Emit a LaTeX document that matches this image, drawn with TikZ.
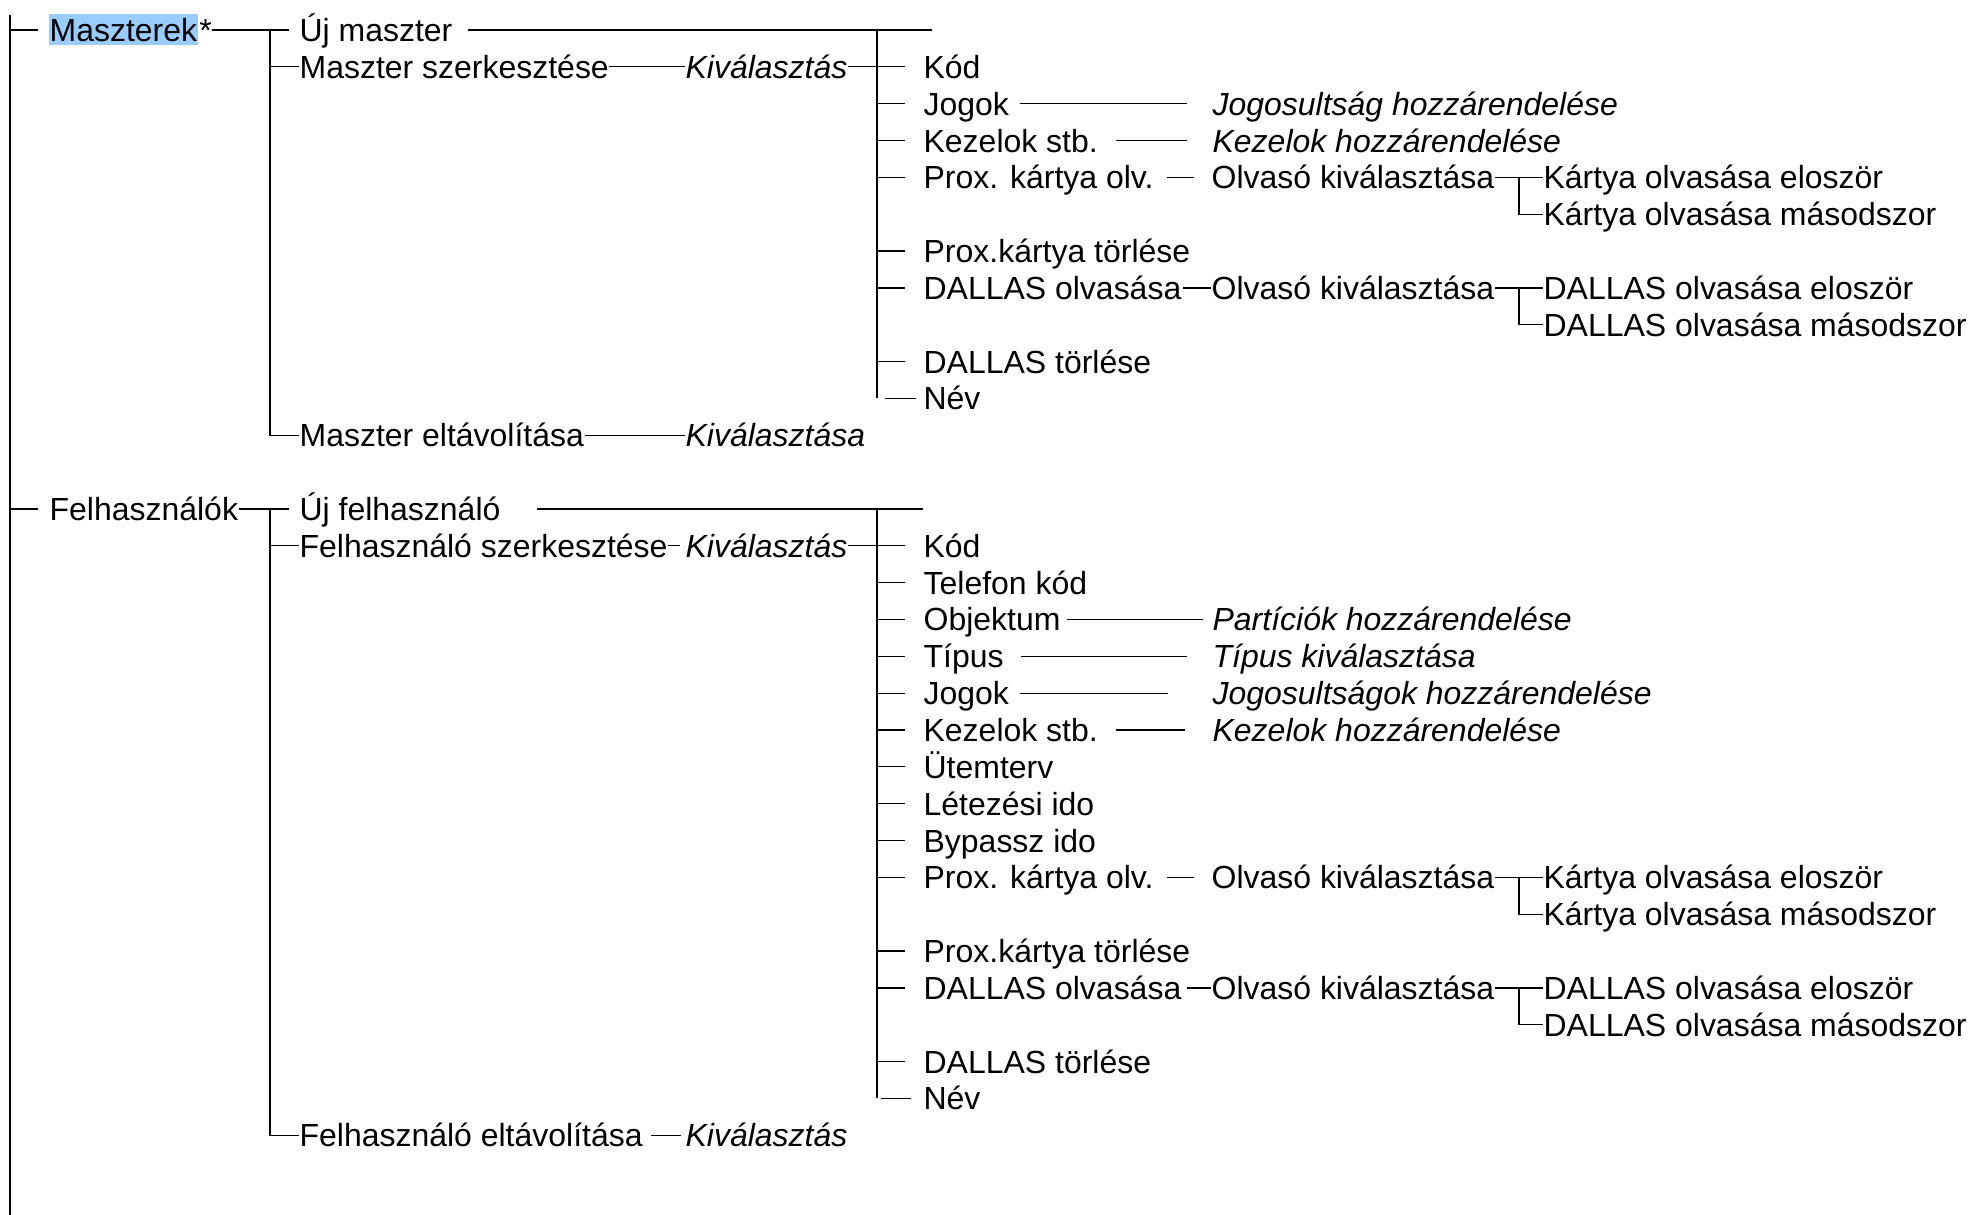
\documentclass[tikz,border=0pt]{standalone}
\usepackage{fontspec}
\setmainfont{Liberation Sans}
\usepackage{tikz}
\usetikzlibrary{positioning, calc}
\definecolor{kiemel}{RGB}{153,204,255}

\begin{document}
\begin{tikzpicture}[
    x=0.02cm, y=-0.737cm, line width=0.7pt,
    txt/.style={anchor=west, inner sep=0pt, text height=0.46cm, text depth=0pt, font=\fontsize{18.2}{22}\selectfont},
    dolt/.style={txt, font=\fontsize{18.2}{22}\selectfont\itshape}
]
\useasboundingbox (0,-0.814) rectangle (1970,32.157);

% Maszterek ag
\node[txt, fill=kiemel, inner xsep=0.02cm, inner ysep=0.08cm] (maszterek) at (48,0) {Maszterek};
\node[txt, right=0pt of maszterek] (csillag) {*};
\node[txt] (ujmaszter) at (299,0) {Új maszter};
\node[txt] (mszerk) at (299,1) {Maszter szerkesztése};
\node[dolt] (mkival) at (685,1) {Kiválasztás};
\node[txt] (mkod) at (923,1) {Kód};
\node[txt] (mjogok) at (923,2) {Jogok};
\node[dolt] (mjogos) at (1212,2) {Jogosultság hozzárendelése};
\node[txt] (mkezelok) at (923,3) {Kezelok stb.};
\node[dolt] (mkezhoz) at (1212,3) {Kezelok hozzárendelése};
\node[txt] (mprox) at (923,4) {Prox. kártya olv.};
\node[txt] (molv) at (1211,4) {Olvasó kiválasztása};
\node[txt] (mkartya1) at (1543,4) {Kártya olvasása eloször};
\node[txt] (mkartya2) at (1543,5) {Kártya olvasása másodszor};
\node[txt] (mproxt) at (923,6) {Prox.kártya törlése};
\node[txt] (mdallas) at (923,7) {DALLAS olvasása};
\node[txt] (mdolv) at (1211,7) {Olvasó kiválasztása};
\node[txt] (mdallas1) at (1543,7) {DALLAS olvasása eloször};
\node[txt] (mdallas2) at (1543,8) {DALLAS olvasása másodszor};
\node[txt] (mdallast) at (923,9) {DALLAS törlése};
\node[txt] (mnev) at (923,10) {Név};
\node[txt] (meltav) at (299,11) {Maszter eltávolítása};
\node[dolt] (mkival2) at (685,11) {Kiválasztása};

% Felhasznalok ag
\node[txt] (felh) at (49,13) {Felhasználók};
\node[txt] (ujfelh) at (299,13) {Új felhasználó};
\node[txt] (fszerk) at (299,14) {Felhasználó szerkesztése};
\node[dolt] (fkival) at (685,14) {Kiválasztás};
\node[txt] (fkod) at (923,14) {Kód};
\node[txt] (ftelefon) at (923,15) {Telefon kód};
\node[txt] (fobj) at (923,16) {Objektum};
\node[dolt] (fpart) at (1212,16) {Partíciók hozzárendelése};
\node[txt] (ftipus) at (923,17) {Típus};
\node[dolt] (ftipkiv) at (1212,17) {Típus kiválasztása};
\node[txt] (fjogok) at (923,18) {Jogok};
\node[dolt] (fjogos) at (1212,18) {Jogosultságok hozzárendelése};
\node[txt] (fkezelok) at (923,19) {Kezelok stb.};
\node[dolt] (fkezhoz) at (1212,19) {Kezelok hozzárendelése};
\node[txt] (futem) at (923,20) {Ütemterv};
\node[txt] (flet) at (923,21) {Létezési ido};
\node[txt] (fbyp) at (923,22) {Bypassz ido};
\node[txt] (fprox) at (923,23) {Prox. kártya olv.};
\node[txt] (folv) at (1211,23) {Olvasó kiválasztása};
\node[txt] (fkartya1) at (1543,23) {Kártya olvasása eloször};
\node[txt] (fkartya2) at (1543,24) {Kártya olvasása másodszor};
\node[txt] (fproxt) at (923,25) {Prox.kártya törlése};
\node[txt] (fdallas) at (923,26) {DALLAS olvasása};
\node[txt] (fdolv) at (1211,26) {Olvasó kiválasztása};
\node[txt] (fdallas1) at (1543,26) {DALLAS olvasása eloször};
\node[txt] (fdallas2) at (1543,27) {DALLAS olvasása másodszor};
\node[txt] (fdallast) at (923,28) {DALLAS törlése};
\node[txt] (fnev) at (923,29) {Név};
\node[txt] (feltav) at (299,30) {Felhasználó eltávolítása};
\node[dolt] (fkival2) at (685,30) {Kiválasztás};

% gyoker vonal
\coordinate (gyoker) at (10,-0.41);
\coordinate (gyokeralj) at (10,32.157);
\draw (gyoker) -- (gyokeralj);
\draw[shorten >=0.2cm] (gyoker |- maszterek.west) -- (maszterek.west);
\draw[shorten >=0.22cm] (gyoker |- felh.west) -- (felh.west);

% Maszterek vonalai
\coordinate (mag) at (270,0);
\coordinate (mag2) at (877,0);
\coordinate (mujvege) at (932,0);
\draw[shorten >=0.2cm] (csillag.east) -- (ujmaszter.west);
\draw (mag) |- (meltav.west);
\draw (mag |- mszerk.west) -- (mszerk.west);
\draw (mszerk.east) -- (mkival.west);
\draw (meltav.east) -- (mkival2.west);
\draw[shorten <=0.3cm] (ujmaszter.east) -- (mujvege);
\draw (mag2) -- (mag2 |- mnev.west);
\draw[shorten >=0.36cm] (mkival.east) -- (mkod.west);
\foreach \n in {mjogok, mkezelok, mprox, mproxt, mdallas, mdallast}
    \draw[shorten >=0.36cm] (mag2 |- \n.west) -- (\n.west);
\draw[shorten <=0.16cm, shorten >=0.14cm] (mag2 |- mnev.west) -- (mnev.west);
\draw[shorten <=0.2cm, shorten >=0.5cm] (mjogok.east) -- (mjogos.west);
\draw[shorten <=0.35cm, shorten >=0.5cm] (mkezelok.east) -- (mkezhoz.west);
\draw[shorten <=0.25cm, shorten >=0.35cm] (mprox.east) -- (molv.west);
\draw (molv.east) -- (mkartya1.west);
\draw ($(molv.east)!0.5!(mkartya1.west)$) |- (mkartya2.west);
\draw[shorten <=0.03cm] (mdallas.east) -- (mdolv.west);
\draw (mdolv.east) -- (mdallas1.west);
\draw ($(mdolv.east)!0.5!(mdallas1.west)$) |- (mdallas2.west);

% Felhasznalok vonalai
\coordinate (fag) at (270,13);
\coordinate (fag2) at (877,13);
\coordinate (fujvege) at (923,13);
\draw[shorten >=0.2cm] (felh.east) -- (ujfelh.west);
\draw (fag) |- (feltav.west);
\draw (fag |- fszerk.west) -- (fszerk.west);
\draw[shorten >=0.1cm] (fszerk.east) -- (fkival.west);
\draw[shorten <=0.15cm, shorten >=0.08cm] (feltav.east) -- (fkival2.west);
\draw[shorten <=0.72cm] (ujfelh.east) -- (fujvege);
\draw (fag2) -- (fag2 |- fnev.west);
\draw[shorten >=0.36cm] (fkival.east) -- (fkod.west);
\foreach \n in {ftelefon, fobj, ftipus, fjogok, fkezelok, futem, flet, fbyp, fprox, fproxt, fdallas, fdallast}
    \draw[shorten >=0.36cm] (fag2 |- \n.west) -- (\n.west);
\draw[shorten <=0.08cm, shorten >=0.24cm] (fag2 |- fnev.west) -- (fnev.west);
\draw[shorten <=0.12cm, shorten >=0.18cm] (fobj.east) -- (fpart.west);
\draw[shorten <=0.33cm, shorten >=0.5cm] (ftipus.east) -- (ftipkiv.west);
\draw[shorten <=0.2cm, shorten >=0.88cm] (fjogok.east) -- (fjogos.west);
\draw[shorten <=0.35cm, shorten >=0.55cm] (fkezelok.east) -- (fkezhoz.west);
\draw[shorten <=0.25cm, shorten >=0.35cm] (fprox.east) -- (folv.west);
\draw (folv.east) -- (fkartya1.west);
\draw ($(folv.east)!0.5!(fkartya1.west)$) |- (fkartya2.west);
\draw[shorten <=0.1cm] (fdallas.east) -- (fdolv.west);
\draw (fdolv.east) -- (fdallas1.west);
\draw ($(fdolv.east)!0.5!(fdallas1.west)$) |- (fdallas2.west);

\end{tikzpicture}
\end{document}
